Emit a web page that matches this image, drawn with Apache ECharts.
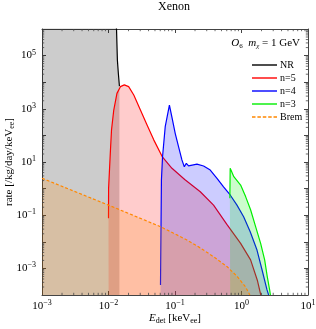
<!DOCTYPE html>
<html><head><meta charset="utf-8">
<script src="https://cdn.jsdelivr.net/npm/echarts@6/dist/echarts.min.js"></script>
<style>html,body{margin:0;padding:0;background:#fff}#c{width:316px;height:329px}</style>
</head><body><div id="c"></div>
<script>
// ---- data (E_det in keVee, rate in /kg/day/keVee) ----
const nrData = [[0.001,1e8],[0.012,1e7],[0.0132,1e6],[0.0136,6.8e4],[0.0141,2e4],[0.0146,7e3]];
const n5Data = [[0.0100,0.076],[0.01003,1.0],[0.0107,28],[0.0111,160],[0.0120,900],[0.0134,3800],[0.0151,6800],[0.0173,7900],[0.0201,6800],[0.0240,3300],[0.0302,900],[0.038,245],[0.0479,68],[0.0641,16],[0.09,5.8],[0.14,2.2],[0.24,0.76],[0.38,0.24],[0.61,0.043],[0.97,0.0087],[1.37,0.0021],[1.73,3.6e-4],[1.95,1e-4]];
const n4Data = [[0.0605,2.4e-4],[0.0625,2.1],[0.0650,16],[0.0713,214],[0.0824,1380],[0.0897,500],[0.1007,120],[0.113,38],[0.127,12],[0.138,6.6],[0.148,8.9],[0.160,7.1],[0.214,8.3],[0.269,7.1],[0.339,5.0],[0.428,2.44],[0.537,1.17],[0.676,0.575],[0.855,0.24],[1.077,0.088],[1.352,0.024],[1.71,0.0049],[2.04,8.7e-4],[2.42,1.55e-4],[2.56,1e-4]];
const n3Data = [[0.668,0.43],[0.676,5.8],[0.767,2.8],[0.97,1.36],[1.153,0.5],[1.37,0.16],[1.63,0.037],[1.94,0.0087],[2.23,0.0021],[2.44,4.9e-4],[2.65,1.55e-4],[2.72,1e-4]];
const bremData = [[0.001,2.45],[0.01,0.24],[0.0605,0.037],[0.0953,0.021],[0.151,0.0117],[0.242,0.0058],[0.38,0.00275],[0.61,0.00115],[0.865,4.9e-4],[1.146,2.04e-4],[1.337,1e-4]];
const seriesNames = ['NR','n=5','n=4','n=3','Brem'];
const xRange = [1e-3, 1e1];
const yRange = [1e-4, 1e6];

const SERIF = '"Liberation Serif","DejaVu Serif",serif';
const AX = '#444';
const X_MIN = xRange[0], X_MAX = xRange[1], Y_MIN = yRange[0], Y_MAX = yRange[1];

function minorVals(lo, hi){
  const out=[];
  for(let e=Math.round(Math.log10(lo)); e<Math.round(Math.log10(hi)); e++){
    for(let k=2;k<=9;k++) out.push(k*Math.pow(10,e));
  }
  return out;
}
const xMinor = minorVals(X_MIN, X_MAX).map(v=>[v, Y_MIN]);
const yMinor = minorVals(Y_MIN, Y_MAX).map(v=>[X_MIN, v]);

const rich = {
  b:{fontSize:11, fontFamily:SERIF, color:'#000'},
  s:{fontSize:8, fontFamily:SERIF, color:'#000', verticalAlign:'bottom', padding:[0,0,6,0]}
};
function powLabel(v, skipEven){
  const e = Math.round(Math.log10(v));
  if (skipEven && (e % 2 === 0)) return '';
  return '{b|10}{s|' + (e<0?'\u2212':'') + Math.abs(e) + '}';
}

const baseX = {type:'log', min:X_MIN, max:X_MAX, interval:1,
  axisLine:{show:true, lineStyle:{color:AX, width:1}},
  axisTick:{show:true, inside:true, length:4, lineStyle:{color:AX, width:1}},
  splitLine:{show:false}};
const baseY = {type:'log', min:Y_MIN, max:Y_MAX, interval:1,
  axisLine:{show:true, lineStyle:{color:AX, width:1}},
  axisTick:{show:true, inside:true, length:4, lineStyle:{color:AX, width:1}},
  splitLine:{show:false}};

function mkLine(name, data, color, dashed, z){
  return {name, type:'line', data, xAxisIndex:0, yAxisIndex:0, symbol:'none', showSymbol:false, clip:true,
    lineStyle:{color, width:1.2, type: dashed ? [3,2] : 'solid'},
    itemStyle:{color},
    areaStyle:{color, opacity:0.2, origin: Y_MIN},
    z, animation:false};
}
const SOLID_ICON = 'path://M0,0h25v1.4h-25z';
const DASH_ICON = 'path://M0,0h3.5v1.4h-3.5zM5.4,0h3.5v1.4h-3.5zM10.8,0h3.5v1.4h-3.5zM16.2,0h3.5v1.4h-3.5zM21.5,0h3.5v1.4h-3.5z';

const chart = echarts.init(document.getElementById('c'), null, {renderer:'canvas'});
const option = {
  animation:false,
  title:{text:'Xenon', left:158, top:1, padding:0,
    textStyle:{fontFamily:SERIF, fontSize:12, fontWeight:'normal', color:'#000'}},
  grid:{left:42, right:8, top:29, bottom:34, outerBoundsMode:'none', containLabel:false},
  xAxis:[
    Object.assign({}, baseX, {position:'bottom',
      axisLabel:{formatter:v=>powLabel(v,false), rich, margin:4},
      name:'{i|E}{sub|det} [keV{sub|ee}]', nameLocation:'middle', nameGap:17, nameMoveOverlap:false,
      nameTextStyle:{fontFamily:SERIF, fontSize:11, color:'#000',
        rich:{i:{fontFamily:SERIF,fontSize:11,fontStyle:'italic',color:'#000'},
              sub:{fontFamily:SERIF,fontSize:8,color:'#000',verticalAlign:'top',padding:[5,0,0,0]}}}}),
    Object.assign({}, baseX, {position:'top', axisLabel:{show:false}})
  ],
  yAxis:[
    Object.assign({}, baseY, {position:'left',
      axisLabel:{formatter:v=>powLabel(v,true), rich, margin:6},
      name:'rate [/kg/day/keV{sub|ee}]', nameLocation:'middle', nameGap:26, nameRotate:90, nameMoveOverlap:false,
      nameTextStyle:{fontFamily:SERIF, fontSize:11, color:'#000',
        rich:{sub:{fontFamily:SERIF,fontSize:8,color:'#000',verticalAlign:'top',padding:[5,0,0,0]}}}}),
    Object.assign({}, baseY, {position:'right', axisLabel:{show:false}})
  ],
  legend:{orient:'vertical', left:247, top:55, itemWidth:25, itemHeight:2, itemGap:3,
    data:seriesNames.map((n,i)=>({name:n, icon: i===4 ? DASH_ICON : SOLID_ICON})),
    textStyle:{fontFamily:SERIF, fontSize:10, color:'#000', padding:[0,0,0,-2]}},
  graphic:[{type:'text', right:16, top:38,
    style:{rich:{
      i:{fontFamily:SERIF,fontSize:11,fontStyle:'italic',fill:'#000'},
      n:{fontFamily:SERIF,fontSize:11,fill:'#000'},
      sub:{fontFamily:SERIF,fontSize:7,fill:'#000',verticalAlign:'top',padding:[5,0,0,0]},
      subi:{fontFamily:SERIF,fontSize:7,fontStyle:'italic',fill:'#000',verticalAlign:'top',padding:[5,0,0,0]}
    }, text:'{i|O}{sub|6}{n|  }{i|m}{subi|χ}{n| = 1 GeV}'}}],
  series:[
    mkLine(seriesNames[0], nrData, '#000000', false, 2),
    mkLine(seriesNames[1], n5Data, '#ff0000', false, 3),
    mkLine(seriesNames[2], n4Data, '#0000ff', false, 4),
    mkLine(seriesNames[3], n3Data, '#00ee00', false, 5),
    mkLine(seriesNames[4], bremData, '#ff8800', true, 6),
    {type:'custom', name:'xminor', data:xMinor, xAxisIndex:0, yAxisIndex:0, silent:true, clip:false, z:10,
      renderItem:(p,api)=>{const v=api.value(0);const b=api.coord([v,Y_MIN]);const t=api.coord([v,Y_MAX]);
        return {type:'group',children:[
          {type:'line',shape:{x1:b[0],y1:b[1],x2:b[0],y2:b[1]-2.2},style:{stroke:AX,lineWidth:0.8}},
          {type:'line',shape:{x1:t[0],y1:t[1],x2:t[0],y2:t[1]+2.2},style:{stroke:AX,lineWidth:0.8}}]};}},
    {type:'custom', name:'yminor', data:yMinor, xAxisIndex:0, yAxisIndex:0, silent:true, clip:false, z:10,
      renderItem:(p,api)=>{const v=api.value(1);const l=api.coord([X_MIN,v]);const r=api.coord([X_MAX,v]);
        return {type:'group',children:[
          {type:'line',shape:{x1:l[0],y1:l[1],x2:l[0]+2.2,y2:l[1]},style:{stroke:AX,lineWidth:0.8}},
          {type:'line',shape:{x1:r[0],y1:r[1],x2:r[0]-2.2,y2:r[1]},style:{stroke:AX,lineWidth:0.8}}]};}}
  ]
};
chart.setOption(option);
</script></body></html>
